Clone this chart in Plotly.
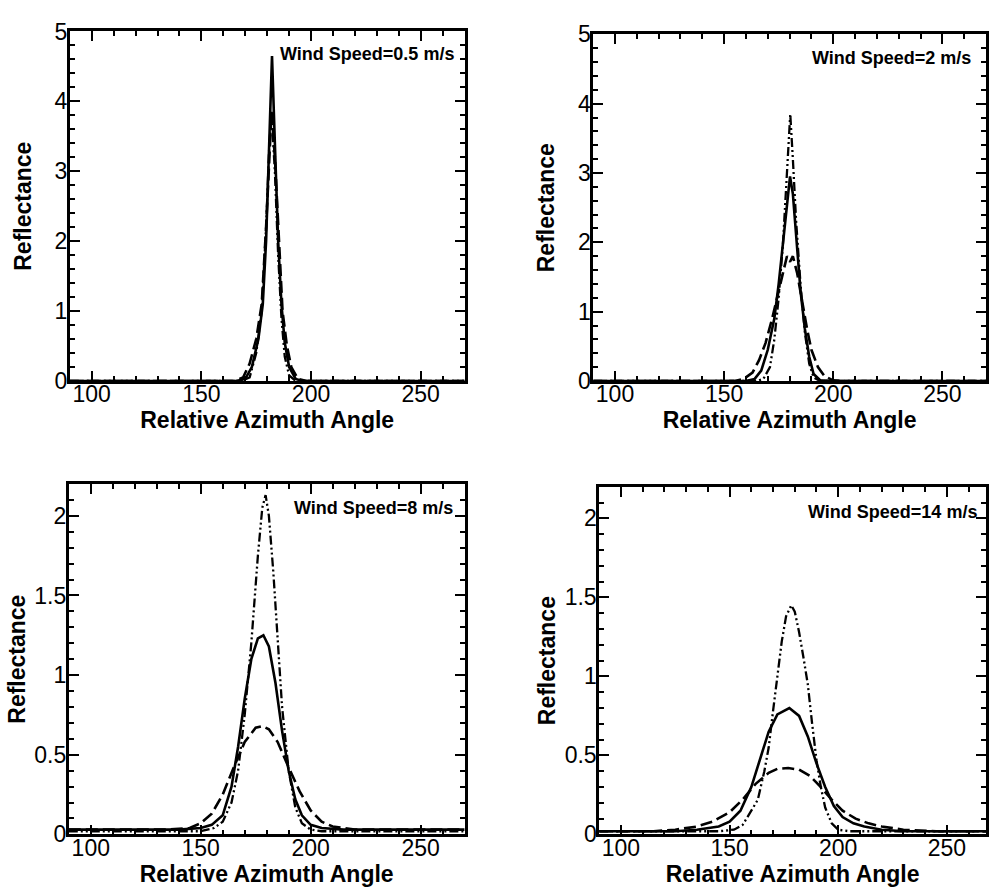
import plotly.graph_objects as go

# ---------------- data ----------------
# Panel 1: Wind Speed = 0.5 m/s
p1_solid_x = [90, 166, 170, 173, 176, 178, 179.5, 181, 182.2, 183.5, 185, 186.5, 188, 190, 193, 196, 270]
p1_solid_y = [0, 0, 0.03, 0.2, 0.6, 1.1, 2.0, 3.4, 4.65, 3.4, 2.0, 1.1, 0.55, 0.2, 0.03, 0, 0]
p1_dash_x = [90, 165, 169, 172, 175, 177.5, 179.5, 181, 182, 183.5, 185, 187, 189, 191, 194, 198, 270]
p1_dash_y = [0, 0, 0.05, 0.25, 0.6, 1.1, 2.2, 3.3, 3.85, 3.2, 2.2, 1.0, 0.5, 0.2, 0.03, 0, 0]
p1_dd_x = [90, 168, 172, 175, 177.5, 179.5, 181, 182, 183.5, 185, 186.5, 188, 190, 193, 270]
p1_dd_y = [0, 0, 0.05, 0.4, 1.0, 2.2, 3.4, 3.8, 3.0, 1.8, 0.9, 0.35, 0.08, 0, 0]

# Panel 2: Wind Speed = 2 m/s
p2_solid_x = [90, 160, 164, 167, 170, 173, 175, 177, 179, 180.2, 181.5, 183, 185, 187, 189, 191, 194, 200, 270]
p2_solid_y = [0, 0, 0.03, 0.15, 0.45, 0.9, 1.4, 2.0, 2.6, 2.95, 2.7, 2.1, 1.3, 0.75, 0.35, 0.1, 0.01, 0, 0]
p2_dash_x = [90, 155, 159, 163, 166, 169, 172, 175, 177, 178.8, 180.2, 181.5, 183.5, 186, 188, 190, 193, 196, 200, 205, 270]
p2_dash_y = [0, 0, 0.03, 0.12, 0.3, 0.55, 0.9, 1.3, 1.6, 1.8, 1.72, 1.8, 1.55, 1.1, 0.75, 0.45, 0.2, 0.07, 0.01, 0, 0]
p2_dd_x = [90, 165, 168, 171, 173, 175, 177, 179, 180.3, 181.5, 183, 185, 187, 189, 191, 194, 270]
p2_dd_y = [0, 0, 0.03, 0.2, 0.6, 1.2, 2.0, 3.1, 3.85, 3.2, 2.3, 1.4, 0.7, 0.25, 0.05, 0, 0]

# Panel 3: Wind Speed = 8 m/s
p3_solid_x = [90, 140, 150, 155, 160, 164, 167, 170, 173, 176, 178.5, 181, 184, 187, 190, 193, 196, 200, 205, 215, 270]
p3_solid_y = [0.03, 0.03, 0.04, 0.06, 0.12, 0.3, 0.55, 0.85, 1.1, 1.23, 1.25, 1.18, 0.95, 0.65, 0.4, 0.22, 0.12, 0.06, 0.04, 0.03, 0.03]
p3_dash_x = [90, 135, 145, 150, 155, 160, 165, 170, 175, 178, 181, 185, 190, 195, 200, 205, 210, 220, 270]
p3_dash_y = [0.03, 0.03, 0.04, 0.07, 0.13, 0.25, 0.42, 0.58, 0.67, 0.68, 0.66, 0.58, 0.42, 0.27, 0.15, 0.08, 0.05, 0.03, 0.03]
p3_dd_x = [90, 150, 156, 160, 164, 167, 170, 173, 176, 178, 179.5, 181, 183, 185, 187, 190, 193, 196, 200, 205, 270]
p3_dd_y = [0.02, 0.02, 0.04, 0.08, 0.2, 0.4, 0.75, 1.2, 1.75, 2.05, 2.13, 2.0, 1.65, 1.2, 0.8, 0.4, 0.17, 0.07, 0.03, 0.02, 0.02]

# Panel 4: Wind Speed = 14 m/s
p4_solid_x = [90, 125, 135, 145, 150, 155, 160, 164, 168, 172, 177.5, 182, 186, 190, 194, 198, 202, 207, 212, 220, 230, 270]
p4_solid_y = [0.02, 0.02, 0.03, 0.05, 0.08, 0.15, 0.3, 0.48, 0.65, 0.76, 0.8, 0.75, 0.62, 0.45, 0.3, 0.18, 0.11, 0.07, 0.05, 0.03, 0.02, 0.02]
p4_dash_x = [90, 115, 125, 135, 142, 150, 156, 162, 168, 172, 177, 182, 187, 192, 197, 202, 208, 214, 220, 230, 245, 270]
p4_dash_y = [0.02, 0.02, 0.03, 0.05, 0.08, 0.14, 0.22, 0.32, 0.39, 0.415, 0.42, 0.41, 0.37, 0.3, 0.22, 0.15, 0.1, 0.07, 0.05, 0.03, 0.02, 0.02]
p4_dd_x = [90, 145, 152, 156, 160, 163, 166, 168, 170, 172, 174, 176, 178.4, 180, 182, 184, 186, 188, 190, 192, 194, 197, 200, 205, 270]
p4_dd_y = [0.02, 0.02, 0.03, 0.06, 0.15, 0.22, 0.4, 0.55, 0.78, 1.0, 1.22, 1.38, 1.45, 1.41, 1.28, 1.12, 0.95, 0.7, 0.47, 0.3, 0.17, 0.07, 0.03, 0.02, 0.02]

panel_labels = ["Wind Speed=0.5 m/s", "Wind Speed=2 m/s", "Wind Speed=8 m/s", "Wind Speed=14 m/s"]
x_ticks = [100, 150, 200, 250]
x_title = "Relative Azimuth Angle"
y_title = "Reflectance"

panels = [
    [(p1_solid_x, p1_solid_y), (p1_dash_x, p1_dash_y), (p1_dd_x, p1_dd_y)],
    [(p2_solid_x, p2_solid_y), (p2_dash_x, p2_dash_y), (p2_dd_x, p2_dd_y)],
    [(p3_solid_x, p3_solid_y), (p3_dash_x, p3_dash_y), (p3_dd_x, p3_dd_y)],
    [(p4_solid_x, p4_solid_y), (p4_dash_x, p4_dash_y), (p4_dd_x, p4_dd_y)],
]

# ---------------- layout / styling ----------------
W, H = 989, 895
# plot-area boxes in pixels: (left, right, top, bottom)
boxes = [(70, 466, 19, 379), (595, 989, 22, 379), (69, 466, 485, 846), (601, 989, 488, 846)]
x_ranges = [[90, 270], [90, 270], [90, 270], [90, 268]]
y_ranges = [[0, 5], [0, 5], [0, 2.2], [0, 2.2]]
y_dticks = [1, 1, 0.5, 0.5]
y_minor = [0.2, 0.2, 0.1, 0.1]
y_standoff = [17, 17, 3, 3]
ann_pos = [(457, 42), (976, 46), (456, 510), (982, 514)]

styles = [
    dict(color="black", width=2.6, dash="solid"),
    dict(color="black", width=2.6, dash="12px,5px"),
    dict(color="black", width=2.3, dash="9px,3px,2px,3px,2px,3px"),
]
names = ["solid", "dashed", "dash-dot"]

fig = go.Figure()
FAM = "Liberation Sans, Arial, sans-serif"
TICKFONT = dict(family=FAM, size=23, color="black")
TITLEFONT = dict(family=FAM, size=23, color="black")

for i, curves in enumerate(panels):
    suffix = "" if i == 0 else str(i + 1)
    for (xs, ys), st, nm in zip(curves, styles, names):
        fig.add_trace(go.Scatter(x=xs, y=ys, mode="lines", line=st, name=nm,
                                 showlegend=False, xaxis="x" + suffix, yaxis="y" + suffix))
    l, r, t, b = boxes[i]
    fig.layout["xaxis" + suffix] = dict(
        domain=[l / W, r / W], range=x_ranges[i], anchor="y" + suffix,
        tickvals=x_ticks, ticks="inside", ticklen=10, tickwidth=2, tickcolor="black",
        minor=dict(dtick=10, tick0=90, ticks="inside", ticklen=5, tickwidth=1.5, tickcolor="black"),
        showline=True, linewidth=2.8, linecolor="black", mirror="allticks",
        showgrid=False, zeroline=False, tickfont=TICKFONT, ticklabelstandoff=-9,
        title=dict(text="<b>" + x_title + "</b>", font=TITLEFONT, standoff=3),
    )
    fig.layout["yaxis" + suffix] = dict(
        domain=[1 - b / H, 1 - t / H], range=y_ranges[i], anchor="x" + suffix,
        dtick=y_dticks[i], tick0=0, ticks="inside", ticklen=10, tickwidth=2, tickcolor="black",
        minor=dict(dtick=y_minor[i], ticks="inside", ticklen=5, tickwidth=1.5, tickcolor="black"),
        showline=True, linewidth=2.8, linecolor="black", mirror="allticks",
        showgrid=False, zeroline=False, tickfont=TICKFONT, ticklabelstandoff=-5,
        title=dict(text="<b>" + y_title + "</b>", font=TITLEFONT, standoff=y_standoff[i]),
    )
    ax, ay = ann_pos[i]
    fig.add_annotation(text="<b>" + panel_labels[i] + "</b>", xref="paper", yref="paper",
                       x=ax / W, y=1 - ay / H, xanchor="right", yanchor="middle",
                       showarrow=False,
                       font=dict(family=FAM, size=18, color="black"))

fig.update_layout(width=W, height=H, margin=dict(l=0, r=0, t=0, b=0),
                  paper_bgcolor="white", plot_bgcolor="white", showlegend=False)

fig.write_html("out.html")
